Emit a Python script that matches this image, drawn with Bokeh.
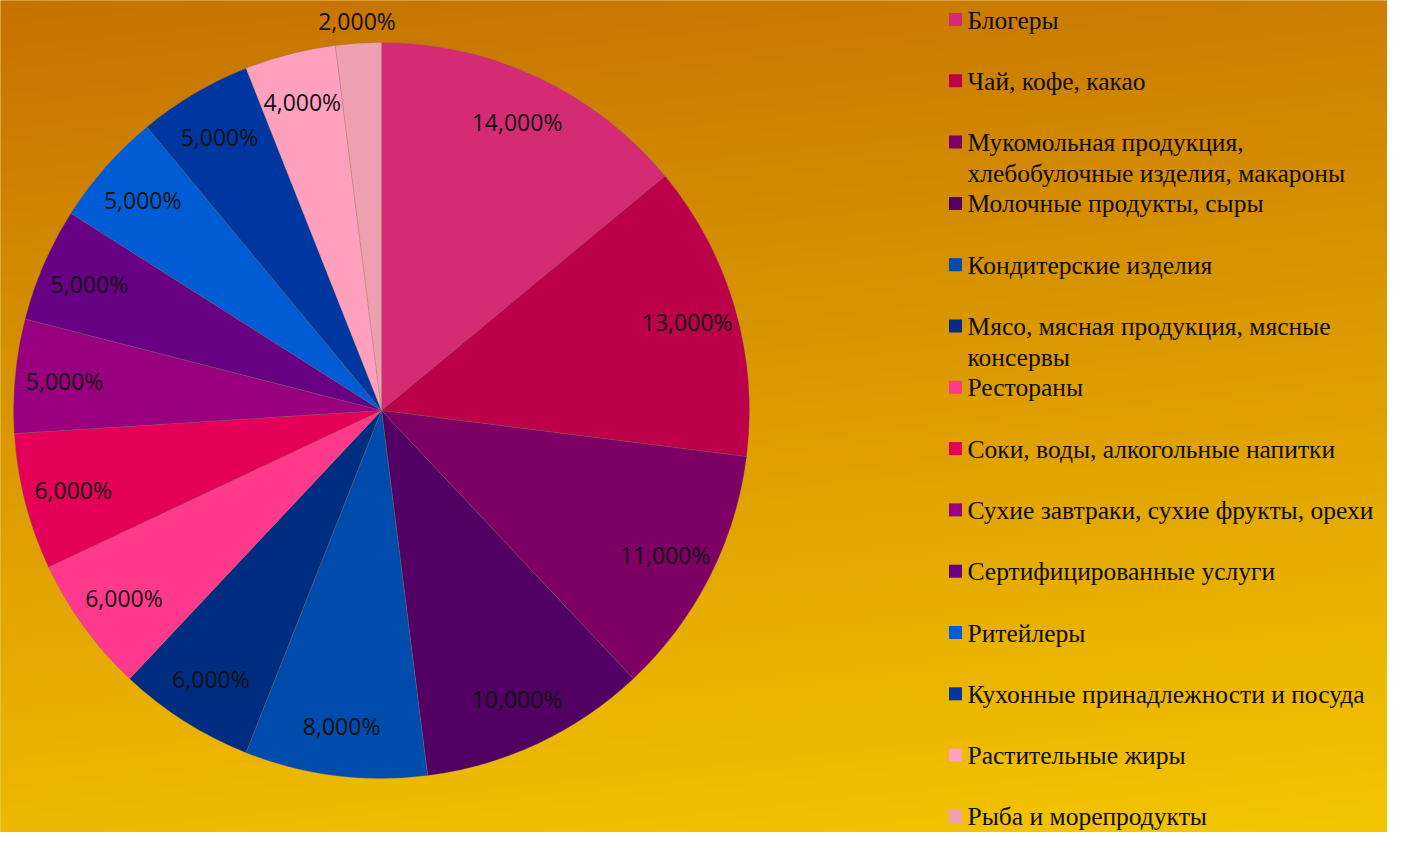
import numpy as np
from bokeh.plotting import figure
from bokeh.models import Range1d, ColumnDataSource
from bokeh.core.properties import value
from bokeh.embed import file_html
from bokeh.resources import INLINE

categories = [
    "Блогеры",
    "Чай, кофе, какао",
    "Мукомольная продукция,\nхлебобулочные изделия, макароны",
    "Молочные продукты, сыры",
    "Кондитерские изделия",
    "Мясо, мясная продукция, мясные\nконсервы",
    "Рестораны",
    "Соки, воды, алкогольные напитки",
    "Сухие завтраки, сухие фрукты, орехи",
    "Сертифицированные услуги",
    "Ритейлеры",
    "Кухонные принадлежности и посуда",
    "Растительные жиры",
    "Рыба и морепродукты",
]
shares = [14, 13, 11, 10, 8, 6, 6, 6, 5, 5, 5, 5, 4, 2]
colors = [
    "#D42B74", "#BC004A", "#7E0064", "#520064", "#004CAC", "#002C82", "#FF3A8C",
    "#E40058", "#980080", "#680084", "#005CD4", "#0036A0", "#FFA0BE", "#EEA0B0",
]

W, H = 1387, 832
p = figure(width=W, height=H, output_backend="svg", toolbar_location=None,
           x_range=Range1d(0, W), y_range=Range1d(0, H),
           min_border=0, outline_line_color=None)
p.axis.visible = False
p.grid.visible = False

# background gradient (orange top-left -> yellow bottom-right); row 0 = bottom
gh, gw = 208, 347
yy, xx = np.mgrid[0:gh, 0:gw]
t = np.clip(0.85 * (yy / (gh - 1)) + 0.15 * (1 - xx / (gw - 1)), 0, 1)
top = np.array([0xC6, 0x72, 0x00], dtype=float)
bot = np.array([0xF4, 0xC6, 0x00], dtype=float)
rgb = bot[None, None, :] * (1 - t[..., None]) + top[None, None, :] * t[..., None]
img = np.empty((gh, gw), dtype=np.uint32)
view = img.view(dtype=np.uint8).reshape((gh, gw, 4))
view[..., 0] = rgb[..., 0].astype(np.uint8)
view[..., 1] = rgb[..., 1].astype(np.uint8)
view[..., 2] = rgb[..., 2].astype(np.uint8)
view[..., 3] = 255
p.image_rgba(image=[img], x=-2, y=-2, dw=W + 4, dh=H + 4)
p.background_fill_color = "#DC9C00"
p.border_fill_color = "#DC9C00"

# pie
cx, cy, R = 381, H - 410, 368
vals = np.array(shares, dtype=float)
cum = np.cumsum(vals) / vals.sum()
prev = np.concatenate([[0], cum[:-1]])
start = np.pi / 2 - 2 * np.pi * prev
end = np.pi / 2 - 2 * np.pi * cum
src = ColumnDataSource(dict(start=start, end=end, color=colors, name=categories))
p.wedge(x=cx, y=cy, radius=R, start_angle="start", end_angle="end",
        direction="clock", fill_color="color", line_color="#7a7a7a",
        line_alpha=0.35, line_width=0.8, source=src)

# labels
mid = np.pi / 2 - 2 * np.pi * (prev + cum) / 2
rl = np.where(vals >= 3, 0.865 * R, 1.06 * R)
lx = cx + rl * np.cos(mid)
ly = cy + rl * np.sin(mid)
labels = [f"{v:.3f}".replace(".", ",") + "%" for v in vals]
p.text(x=lx, y=ly, text=labels, text_align="center", text_baseline="middle",
       text_font=value("Open Sans"), text_font_size="23px", text_color="#111111")

# legend
n = len(categories)
ly0 = H - 19
step = 61.3
leg_y = [ly0 - i * step for i in range(n)]
p.rect(x=[955] * n, y=leg_y, width=13, height=13, fill_color=colors, line_color=None)
p.text(x=[967] * n, y=[v + 14 for v in leg_y], text=categories, text_align="left",
       text_baseline="top", text_font=value("Liberation Serif"), text_font_size="25.5px",
       text_color="#0d0d0d", text_line_height=1.08)

open("out.html", "w").write(file_html(p, INLINE))
